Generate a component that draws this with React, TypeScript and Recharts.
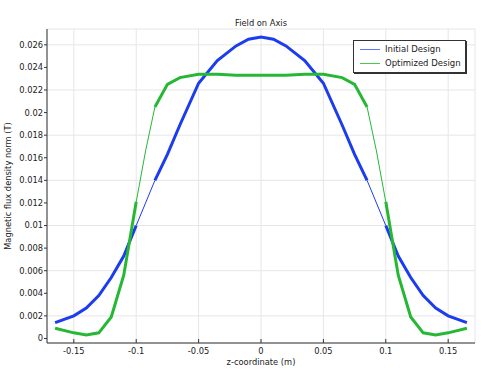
import React from 'react';
import { LineChart, Line, XAxis, YAxis, CartesianGrid, Label } from 'recharts';

// z positions along the axis (m)
const zCoords = [
  -0.165, -0.15, -0.14, -0.13, -0.12, -0.11, -0.1, -0.0925, -0.085, -0.075, -0.065, -0.05, -0.035, -0.02, -0.01, 0,
  0.01, 0.02, 0.035, 0.05, 0.065, 0.075, 0.085, 0.0925, 0.1, 0.11, 0.12, 0.13, 0.14, 0.15, 0.165,
];

const initialDesign = [
  0.0014, 0.002, 0.0027, 0.0038, 0.0054, 0.0073, 0.01, 0.012, 0.014, 0.0163, 0.0189, 0.0226, 0.0246, 0.0259, 0.0265, 0.0267,
  0.0265, 0.0259, 0.0246, 0.0226, 0.0189, 0.0163, 0.014, 0.012, 0.01, 0.0073, 0.0054, 0.0038, 0.0027, 0.002, 0.0014,
];

const optimizedDesign = [
  0.0009, 0.0005, 0.0003, 0.0005, 0.0019, 0.0056, 0.0121, 0.0166, 0.0205, 0.0225, 0.0231, 0.0234, 0.0234, 0.0233, 0.0233, 0.0233,
  0.0233, 0.0233, 0.0234, 0.0234, 0.0231, 0.0225, 0.0205, 0.0166, 0.0121, 0.0056, 0.0019, 0.0005, 0.0003, 0.0005, 0.0009,
];

const xTicks = [-0.15, -0.1, -0.05, 0, 0.05, 0.1, 0.15];
const yTicks = [0, 0.002, 0.004, 0.006, 0.008, 0.01, 0.012, 0.014, 0.016, 0.018, 0.02, 0.022, 0.024, 0.026];

// the stretch between 0.085 and 0.1 (both sides) is drawn thin
const inGap = (z: number) => Math.abs(z) > 0.085 && Math.abs(z) < 0.1;
const inThin = (z: number) => Math.abs(z) >= 0.085 && Math.abs(z) <= 0.1;

const data = zCoords.map((z, i) => ({
  z,
  initialThick: inGap(z) ? null : initialDesign[i],
  initialThin: inThin(z) ? initialDesign[i] : null,
  optimizedThick: inGap(z) ? null : optimizedDesign[i],
  optimizedThin: inThin(z) ? optimizedDesign[i] : null,
}));

const BLUE = '#1c3cf0';
const GREEN = '#26b835';
const FONT = '"DejaVu Sans", sans-serif';
const TXT = { fontSize: 8.3, fill: '#222', fontFamily: FONT };

const App: React.FC = () => {
  return (
    <div style={{ position: 'fixed', left: 0, top: 0, width: 483, height: 369, background: '#fff', fontFamily: FONT }}>
      <div style={{ position: 'absolute', left: 211, width: 100, top: 18, textAlign: 'center', fontSize: 8.3, color: '#222' }}>
        Field on Axis
      </div>
      <LineChart width={483} height={369} data={data} margin={{ top: 29, right: 8, left: 0, bottom: 0 }}>
        <CartesianGrid stroke="#e6e6e6" strokeWidth={1} />
        <XAxis
          dataKey="z"
          type="number"
          domain={[-0.1715, 0.1715]}
          ticks={xTicks}
          allowDataOverflow
          height={26}
          tickSize={-4}
          tickMargin={9}
          stroke="#333"
          tick={TXT}
        >
          <Label value="z-coordinate (m)" position="insideBottom" offset={4} style={TXT} />
        </XAxis>
        <XAxis
          xAxisId="top"
          orientation="top"
          dataKey="z"
          type="number"
          domain={[-0.1715, 0.1715]}
          ticks={xTicks}
          allowDataOverflow
          height={0}
          mirror
          tickSize={4}
          stroke="#333"
          tickFormatter={() => ''}
        />
        <YAxis
          type="number"
          domain={[-0.0004, 0.0274]}
          ticks={yTicks}
          allowDataOverflow
          width={47}
          tickSize={3}
          tickMargin={1}
          stroke="#333"
          tick={TXT}
        >
          <Label
            value="Magnetic flux density norm (T)"
            angle={-90}
            position="insideLeft"
            offset={0}
            style={{ ...TXT, textAnchor: 'middle' }}
            dx={8}
          />
        </YAxis>
        <YAxis
          yAxisId="right"
          orientation="right"
          type="number"
          domain={[-0.0004, 0.0274]}
          ticks={yTicks}
          allowDataOverflow
          width={0}
          mirror
          tickSize={4}
          stroke="#333"
          tickFormatter={() => ''}
        />
        <Line dataKey="initialThin" stroke={BLUE} strokeWidth={1} dot={false} activeDot={false} isAnimationActive={false} />
        <Line dataKey="initialThick" stroke={BLUE} strokeWidth={3} dot={false} activeDot={false} isAnimationActive={false} />
        <Line dataKey="optimizedThin" stroke={GREEN} strokeWidth={1} dot={false} activeDot={false} isAnimationActive={false} />
        <Line dataKey="optimizedThick" stroke={GREEN} strokeWidth={3} dot={false} activeDot={false} isAnimationActive={false} />
      </LineChart>
      <div
        style={{
          position: 'absolute',
          left: 353,
          top: 40,
          width: 111,
          height: 31,
          border: '1px solid #333',
          boxShadow: '1px 1px 0 #333',
          background: '#fff',
          fontSize: 8.5,
          color: '#222',
        }}
      >
        <div style={{ position: 'absolute', left: 6, top: 8, width: 20, height: 1, background: '#5c74ff' }} />
        <div style={{ position: 'absolute', left: 31, top: 3 }}>Initial Design</div>
        <div style={{ position: 'absolute', left: 6, top: 22, width: 20, height: 1, background: '#4cc655' }} />
        <div style={{ position: 'absolute', left: 31, top: 17 }}>Optimized Design</div>
      </div>
    </div>
  );
};

export default App;
